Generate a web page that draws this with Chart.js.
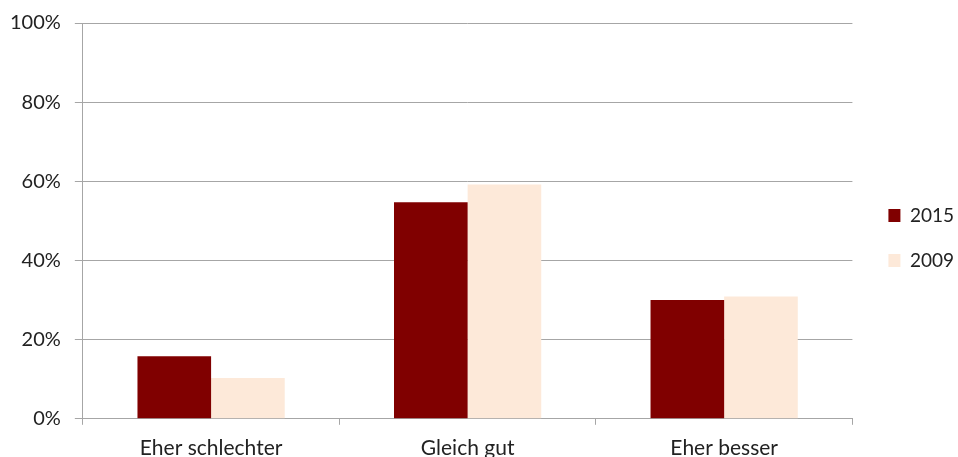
<!DOCTYPE html>
<html>
<head>
<meta charset="utf-8">
<script src="https://cdn.jsdelivr.net/npm/chart.js@4/dist/chart.umd.min.js"></script>
<style>
  html, body { margin: 0; padding: 0; background: #fff; }
  #wrap { width: 958px; height: 457px; }
</style>
</head>
<body>
<div id="wrap"><canvas id="c" width="958" height="457"></canvas></div>
<script>
// Antworten: Lage im Vergleich, Anteile in Prozent
const categories = ['Eher schlechter', 'Gleich gut', 'Eher besser'];
const values2015 = [15.8, 54.7, 30.0];
const values2009 = [10.3, 59.2, 30.9];
const yTicks = [0, 20, 40, 60, 80, 100];

const FONT = 'Lato, "Open Sans", sans-serif';
const TEXT = '#222222';
const GRID = '#a6a6a6';

// Nudges the right-hand legend a little away from the plot area
const legendShift = {
  id: 'legendShift',
  beforeDraw(chart, args, opts) {
    const lg = chart.legend;
    if (!lg) return;
    lg.left += opts.dx || 0;
    lg.right += opts.dx || 0;
    lg.top += opts.dy || 0;
    lg.bottom += opts.dy || 0;
  }
};

new Chart(document.getElementById('c'), {
  type: 'bar',
  data: {
    labels: categories,
    datasets: [
      { label: '2015', data: values2015, backgroundColor: '#800000', borderWidth: 0 },
      { label: '2009', data: values2009, backgroundColor: '#fde9d9', borderWidth: 0 }
    ]
  },
  plugins: [legendShift],
  options: {
    responsive: false,
    animation: false,
    devicePixelRatio: 1,
    layout: { padding: { top: 4, right: 4, left: -4, bottom: -15 } },
    datasets: { bar: { categoryPercentage: 0.574, barPercentage: 1.0 } },
    plugins: {
      tooltip: { enabled: false },
      legendShift: { dx: 10, dy: 0 },
      legend: {
        position: 'right',
        labels: {
          font: { family: FONT, size: 19 },
          color: TEXT,
          boxWidth: 12,
          boxHeight: 13,
          padding: 26
        }
      }
    },
    scales: {
      x: {
        grid: { display: true, drawOnChartArea: false, drawTicks: true, tickLength: 6, color: GRID, offset: true },
        border: { display: true, color: GRID, width: 1 },
        ticks: { font: { family: FONT, size: 21 }, color: TEXT, padding: 11 }
      },
      y: {
        min: 0,
        max: 100,
        afterBuildTicks: (axis) => { axis.ticks = yTicks.map(v => ({ value: v })); },
        grid: { color: GRID, lineWidth: 1, tickLength: 8, drawTicks: true },
        border: { display: true, color: GRID, width: 1 },
        ticks: {
          font: { family: FONT, size: 20, lineHeight: 0.9 },
          color: TEXT,
          padding: 14,
          callback: (v) => v + '%'
        }
      }
    }
  }
});
</script>
</body>
</html>
